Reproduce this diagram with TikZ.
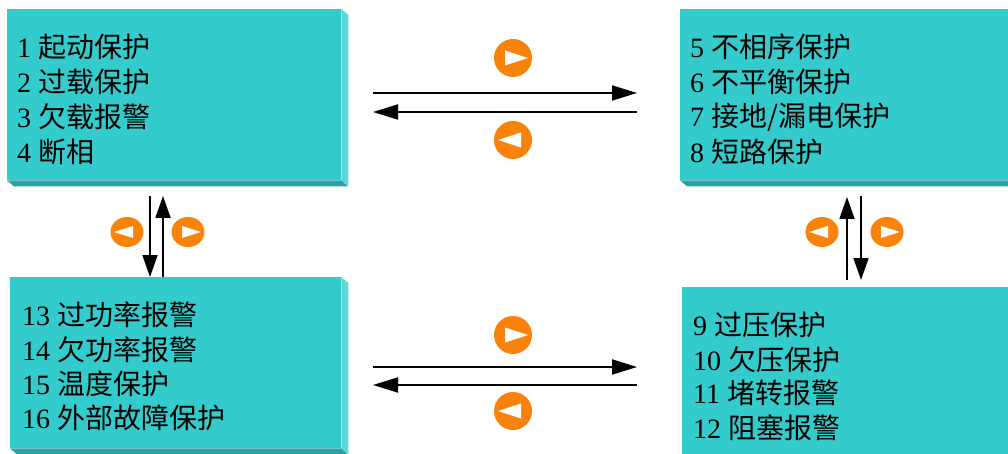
\documentclass[tikz,border=0pt]{standalone}
\usepackage{fontspec}
\setmainfont{Liberation Serif}
\newfontfamily\cjk{Noto Sans CJK SC}
\usetikzlibrary{arrows.meta,shapes.geometric}
\definecolor{teal1}{HTML}{33CBCB}
\definecolor{tealside}{HTML}{5CD8D8}
\definecolor{tealbot}{HTML}{28A5A5}
\definecolor{btnorange}{HTML}{F8820A}
\newcommand\itm[2]{#1 {\cjk #2}}
\tikzset{
  front/.style={fill=teal1, draw=none, inner sep=0pt, anchor=north west},
  sideface/.style={fill=tealside},
  botface/.style={fill=tealbot},
  txt/.style={anchor=west, inner sep=0pt, font=\fontsize{28}{35}\selectfont},
  arr/.style={line width=1.8pt, -{Triangle[length=25pt,width=15pt]}},
  varr/.style={line width=1.8pt, -{Triangle[length=22pt,width=15pt]}},
  btn/.style={circle, fill=btnorange, inner sep=0pt, minimum size=38pt},
  sbtn/.style={ellipse, fill=btnorange, inner sep=0pt, minimum width=33pt, minimum height=30pt},
}
\begin{document}
\begin{tikzpicture}[x=1pt,y=-1pt]
\useasboundingbox (0,0) rectangle (1008,454);
\fill[white] (0,0) rectangle (1008,454);

% top-left box
\node[front, minimum width=334pt, minimum height=171pt] (B1) at (7,9) {};
\fill[sideface] (B1.north east) -- ++(7,6) -- ++(0,171) -- (B1.south east) -- cycle;
\fill[botface] (B1.south west) -- ++(7,6) -- ++(334,0) -- (B1.south east) -- cycle;
\node[txt] (t1) at (17,47) {\itm{1}{起动保护}};
\node[txt] (t2) at (17,82) {\itm{2}{过载保护}};
\node[txt] (t3) at (17,117) {\itm{3}{欠载报警}};
\node[txt] (t4) at (17,152) {\itm{4}{断相}};

% top-right box
\node[front, minimum width=340pt, minimum height=171pt] (B2) at (680,9) {};
\fill[botface] (B2.south west) -- ++(7,6) -- ++(340,0) -- (B2.south east) -- cycle;
\node[txt] (t5) at (690,47) {\itm{5}{不相序保护}};
\node[txt] (t6) at (690,82) {\itm{6}{不平衡保护}};
\node[txt] (t7) at (690,117) {\itm{7}{接地/漏电保护}};
\node[txt] (t8) at (690,152) {\itm{8}{短路保护}};

% bottom-left box
\node[front, minimum width=331pt, minimum height=171pt] (B3) at (10,277) {};
\fill[sideface] (B3.north east) -- ++(7,6) -- ++(0,171) -- (B3.south east) -- cycle;
\fill[botface] (B3.south west) -- ++(7,6) -- ++(331,0) -- (B3.south east) -- cycle;
\node[txt] (t13) at (22,315) {\itm{13}{过功率报警}};
\node[txt] (t14) at (22,350) {\itm{14}{欠功率报警}};
\node[txt] (t15) at (22,384) {\itm{15}{温度保护}};
\node[txt] (t16) at (22,418) {\itm{16}{外部故障保护}};

% bottom-right box
\node[front, minimum width=340pt, minimum height=180pt] (B4) at (682,287) {};
\node[txt] (t9) at (693,325) {\itm{9}{过压保护}};
\node[txt] (t10) at (693,360) {\itm{10}{欠压保护}};
\node[txt] (t11) at (693,393) {\itm{11}{堵转报警}};
\node[txt] (t12) at (693,428) {\itm{12}{阻塞报警}};

% arrow end points
\coordinate (a1s) at (373,93);  \coordinate (a1e) at (637,93);
\coordinate (a2s) at (637,112); \coordinate (a2e) at (373,112);
\coordinate (a3s) at (373,367); \coordinate (a3e) at (637,367);
\coordinate (a4s) at (637,385); \coordinate (a4e) at (373,385);
\coordinate (v1s) at (150,196); \coordinate (v1e) at (150,277);
\coordinate (v2s) at (163,277); \coordinate (v2e) at (163,196);
\coordinate (v3s) at (847,280); \coordinate (v3e) at (847,197);
\coordinate (v4s) at (861,196); \coordinate (v4e) at (861,280);

\draw[arr] (a1s) -- (a1e);
\draw[arr] (a2s) -- (a2e);
\draw[arr] (a3s) -- (a3e);
\draw[arr] (a4s) -- (a4e);
\draw[varr] (v1s) -- (v1e);
\draw[varr] (v2s) -- (v2e);
\draw[varr] (v3s) -- (v3e);
\draw[varr] (v4s) -- (v4e);

% orange buttons (horizontal)
\node[btn] (c1) at (513,58) {};
\fill[white, shift={(c1)}] (-8,-7.5) -- (15,0) -- (-8,7.5) -- cycle;
\node[btn] (c2) at (513,140) {};
\fill[white, shift={(c2)}] (8,-7.5) -- (-15,0) -- (8,7.5) -- cycle;
\node[btn] (c3) at (513,335) {};
\fill[white, shift={(c3)}] (-8,-7.5) -- (15,0) -- (-8,7.5) -- cycle;
\node[btn] (c4) at (513,411) {};
\fill[white, shift={(c4)}] (8,-7.5) -- (-15,0) -- (8,7.5) -- cycle;

% orange buttons (vertical)
\node[sbtn] (s1) at (127,232) {};
\fill[white, shift={(s1)}] (6,-6) -- (-13,0) -- (6,6) -- cycle;
\node[sbtn] (s2) at (188,232) {};
\fill[white, shift={(s2)}] (-6,-6) -- (13,0) -- (-6,6) -- cycle;
\node[sbtn] (s3) at (822,232) {};
\fill[white, shift={(s3)}] (6,-6) -- (-13,0) -- (6,6) -- cycle;
\node[sbtn] (s4) at (887,232) {};
\fill[white, shift={(s4)}] (-6,-6) -- (13,0) -- (-6,6) -- cycle;
\end{tikzpicture}
\end{document}
